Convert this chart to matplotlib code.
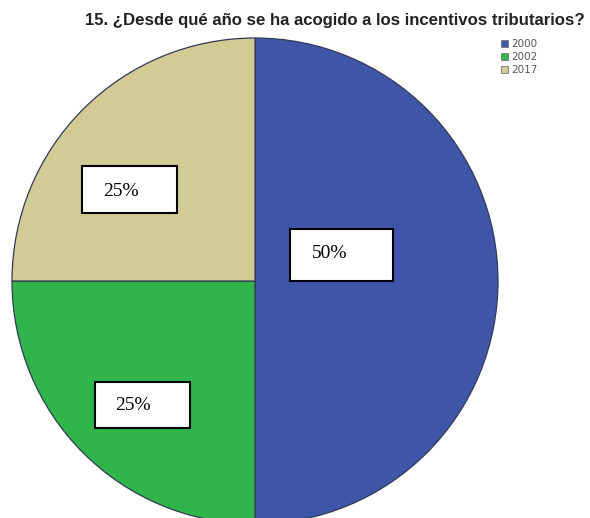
import matplotlib.pyplot as plt
from matplotlib.patches import Rectangle

# Survey answers, question 15
YEARS = ["2000", "2002", "2017"]
SHARES = [50, 25, 25]
COLORS = ["#3f56a8", "#2fb54a", "#d3cb96"]
TITLE = "15. ¿Desde qué año se ha acogido a los incentivos tributarios?"

W, H = 590, 518
CX, CY, R = 255, 281, 243

# label boxes (left, top, right, bottom) and text anchor, in pixel coords
BOXES = [
    ((290, 229, 393, 281), (312, 254)),   # 2000
    ((95, 382, 190, 428), (115, 406)),    # 2002
    ((82, 166, 177, 213), (103, 191)),    # 2017
]


def py(y):
    # pixel row -> data y (axes run bottom-up)
    return H - y


fig = plt.figure(figsize=(W / 100, H / 100), dpi=100)
ax = fig.add_axes([0, 0, 1, 1])

wedges, _ = ax.pie(
    SHARES, colors=COLORS, startangle=90, counterclock=False,
    center=(CX, py(CY)), radius=R, frame=True,
    wedgeprops=dict(edgecolor="#313a55", linewidth=0.9),
)

for share, ((x0, y0, x1, y1), (tx, ty)) in zip(SHARES, BOXES):
    ax.add_patch(Rectangle((x0, py(y1)), x1 - x0, y1 - y0, facecolor="white",
                           edgecolor="black", linewidth=1.5, zorder=3))
    ax.text(tx, py(ty), f"{share}%", ha="left", va="center", fontsize=14,
            family="Liberation Serif", zorder=4)

ax.text(335, py(21), TITLE, ha="center", va="center", fontsize=12.1,
        fontweight="bold", family="Liberation Sans", color="#222222")

leg = ax.legend(wedges, YEARS, loc="upper left",
                bbox_to_anchor=(501 / W, 1 - 39 / H), frameon=False,
                fontsize=7.5, handlelength=0.7, handleheight=0.7,
                handletextpad=0.3, labelspacing=0.3, borderpad=0,
                borderaxespad=0)
for t in leg.get_texts():
    t.set_color("#555555")
for h in leg.legend_handles:
    h.set_edgecolor("#777777")
    h.set_linewidth(0.6)

ax.set_xlim(0, W)
ax.set_ylim(0, H)
ax.set_aspect("equal")
ax.axis("off")

fig.savefig("out.png", dpi=100)
